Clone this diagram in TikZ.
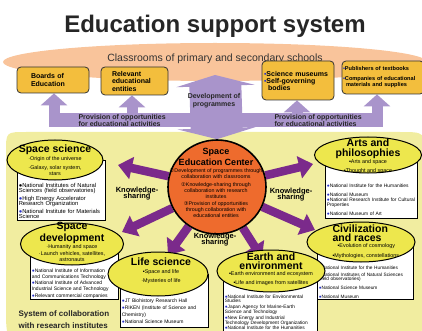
\documentclass[tikz,border=0pt]{standalone}
\usepackage{fontspec}
\setmainfont{Liberation Sans}
\newfontfamily\circnum{DejaVu Sans}
\usepackage{tikz}
\usetikzlibrary{arrows.meta,shapes,shadows}
\pgfdeclarelayer{background}
\pgfdeclarelayer{arrows}
\pgfsetlayers{background,arrows,main}

\definecolor{peach}{HTML}{F9C49B}
\definecolor{boxorange}{HTML}{F3BE3D}
\definecolor{lavender}{HTML}{A994CB}
\definecolor{paleyellow}{HTML}{F1EDA0}
\definecolor{topicyellow}{HTML}{EDE74D}
\definecolor{centerorange}{HTML}{EE6B2D}
\definecolor{arrowviolet}{HTML}{7B2A8B}
\definecolor{dotblue}{HTML}{2B35C8}

\newcommand{\fsz}[2]{\fontsize{#1}{#2}\selectfont}
\newcommand{\bul}{{\color{dotblue}●}}
\newcommand{\sqb}{{\color{dotblue}▪}}
\newcommand{\ttl}[1]{{\fontsize{10.5}{8.5}\bfseries\selectfont #1}}
\newcommand{\cnum}[1]{{\circnum #1}}

\tikzstyle{fat arrow} = [draw=arrowviolet, line width=8.5pt, -{Triangle[width=22pt,length=14pt]}]
\tikzstyle{provision} = [draw=lavender, line width=11pt, -{Triangle[width=26pt,length=12pt]}]

\begin{document}
\begin{tikzpicture}[x=1pt,y=-1pt,
  org box/.style={draw=black!80, fill=boxorange, rounded corners=4pt, line width=0.8pt,
    align=left, inner xsep=1pt, font=\fsz{7}{8}\bfseries},
  topic/.style={ellipse, draw, fill=topicyellow, line width=1pt, inner sep=0pt},
  topic text/.style={align=center, font=\fsz{5.4}{5.6}},
  info box/.style={draw, fill=white, anchor=north west, align=left, inner xsep=1.5pt,
    inner ysep=1.5pt, line width=0.6pt,
    drop shadow={shadow xshift=0.7pt, shadow yshift=-0.7pt, fill=black!80, opacity=1}},
  share/.style={align=center, font=\fsz{7.5}{6.5}\bfseries}]

  \useasboundingbox (0,0) rectangle (422,331);

  \begin{pgfonlayer}{background}
    \fill[paleyellow] (6,152) .. controls (6,132) .. (26,132) -- (400,132)
      .. controls (425,132) .. (425,157) -- (425,285) .. controls (425,345) .. (365,345)
      -- (45,345) .. controls (6,345) .. (6,306) -- cycle;
    \node[ellipse, fill=peach, minimum width=424pt, minimum height=38pt] (classrooms) at (215,62) {};
  \end{pgfonlayer}

  \node[anchor=base, font=\fsz{24}{28}\bfseries, text=black!85] (title) at (215,33) {Education support system};
  \node[font=\fsz{10.5}{12}, text=black!80] (classtext) at (215,59) {Classrooms of primary and secondary schools};

  % organisations above
  \node[org box, minimum width=72pt, minimum height=26pt, text width=44pt, font=\fsz{7}{8.5}\bfseries] (boards) at (53,80) {Boards of\\Education};
  \node[org box, minimum width=67pt, minimum height=28pt, text width=45pt, font=\fsz{7}{7.5}\bfseries] (relevant) at (134.5,81) {Relevant\\educational\\entities};
  \node[org box, minimum width=72pt, minimum height=39pt, text width=68pt, font=\fsz{7}{7}\bfseries] (museums) at (298,80.5) {\sqb Science museums\\\sqb Self-governing\\\hspace*{4pt}bodies};
  \node[org box, minimum width=82pt, minimum height=33pt, text width=80pt, font=\fsz{5.6}{6.5}\bfseries] (publishers) at (383,77.5) {\sqb Publishers of textbooks\\[3pt]\sqb Companies of educational\\\hspace*{3pt}materials and supplies};

  \node[align=center, font=\fsz{7}{8}\bfseries, text=black!85] (devtext) at (214,101) {Development of\\programmes};
  \node[align=left, anchor=west, font=\fsz{7}{7.5}\bfseries, text=black!85] (provL) at (75,120.5) {Provision of opportunities\\for educational activities};
  \node[align=left, anchor=west, font=\fsz{7}{7.5}\bfseries, text=black!85] (provR) at (271,120.5) {Provision of opportunities\\for educational activities};

  % centre
  \node[ellipse, draw, line width=1.6pt, fill=centerorange, minimum width=98pt, minimum height=94pt, inner sep=0pt] (sec) at (217,187) {};
  \node[align=center, font=\fsz{5.3}{6}] (sectext) at (216,183) {{\fsz{9}{9}\bfseries Space}\\[2pt]
    {\fsz{9}{9}\bfseries Education Center}\\[1pt]
    \cnum{①}Development of programmes through\\collaboration with classrooms\\[1.5pt]
    \cnum{②}Knowledge-sharing through\\collaboration with research\\institutes\\[1.5pt]
    \cnum{③}Provision of opportunities\\through collaboration with\\educational entities};

  % research institutes
  \node[info box, text width=85pt, font=\fsz{5.8}{5.7}] (ssbox) at (17,160) {\rule{0pt}{25.2pt}●National Institutes of Natural\\Sciences (field observatories)\\[1.6pt]\bul High Energy Accelerator\\Research Organization\\[1.6pt]\bul National Institute for Materials\\Science};
  \node[info box, text width=89pt, font=\fsz{4.9}{5}] (artsbox) at (325,155) {\rule{0pt}{30.2pt}\bul National Institute for the Humanities\\[4pt]\bul National Museum\\\bul National Research Institute for Cultural\\Properties\\[4pt]\bul National Museum of Art\rule[-2pt]{0pt}{2pt}};
  \node[info box, text width=85pt, font=\fsz{5}{6}] (sdbox) at (30,244) {\rule{0pt}{26.2pt}\bul National Institute of Information\\and Communications Technology\\\bul National Institute of Advanced\\Industrial Science and Technology\\[1pt]\bul Relevant commercial companies};
  \node[info box, text width=85pt, font=\fsz{5}{7}] (lifebox) at (120,274) {\rule{0pt}{26.2pt}\bul JT Biohistory Research Hall\\\bul RIKEN (Institute of Science and\\Chemistry)\\\bul National Science Museum\rule[-3pt]{0pt}{3pt}};
  \node[info box, text width=91pt, font=\fsz{4.8}{4.9}] (earthbox) at (223,271) {\rule{0pt}{25.2pt}\bul National Institute for Environmental\\Studies\\[1.1pt]\bul Japan Agency for Marine-Earth\\Science and Technology\\[1.1pt]\bul New Energy and Industrial\\Technology Development Organization\\\bul National Institute for the Humanities\rule[-6pt]{0pt}{6pt}};
  \node[info box, text width=93pt, font=\fsz{4.75}{4.5}] (civbox) at (317,242) {\rule{0pt}{25.2pt}\bul National Institute for the Humanities\\[2.5pt]\bul National Institutes of Natural Sciences\\(field observatories)\\[4pt]\bul National Science Museum\\[4.5pt]\bul National Museum};

  \node[topic, minimum width=96pt, minimum height=40pt] (spacesci) at (55,160) {};
  \node[topic, minimum width=107pt, minimum height=36pt] (arts) at (368,155) {};
  \node[topic, minimum width=103pt, minimum height=42pt] (spacedev) at (72,244) {};
  \node[topic, minimum width=100pt, minimum height=44pt] (life) at (158,274) {};
  \node[topic, minimum width=108pt, minimum height=42pt] (earth) at (271,271) {};
  \node[topic, minimum width=108pt, minimum height=40pt] (civ) at (361,242) {};

  \node[topic text] (spacescitext) at (spacesci) {\ttl{Space science}\\[1pt]·Origin of the universe\\[3.4pt]·Galaxy, solar system,\\stars};
  \node[topic text] (artstext) at (368,156) {\ttl{Arts and}\\[1pt]\ttl{philosophies}\\[0.5pt]▪Arts and space\\[3pt]▪Thought and space};
  \node[topic text] (spacedevtext) at (72,242) {\ttl{Space}\\[0.5pt]\ttl{development}\\[0pt]·Humanity and space\\[2pt]·Launch vehicles, satellites,\\astronauts};
  \node[topic text] (lifetext) at (161,271) {\ttl{Life science}\\[2pt]▪Space and life\\[4pt]·Mysteries of life};
  \node[topic text] (earthtext) at (271,269) {\ttl{Earth and}\\[1pt]\ttl{environment}\\[0pt]▪Earth environment and ecosystem\\[3.5pt]▪Life and images from satellites};
  \node[topic text, align=left, anchor=west] (civtext) at (329,241.5) {\ttl{Civilization}\\[1pt]\ttl{and races}\\[0pt]\hspace*{5pt}▪Evolution of cosmology\\[4.5pt]▪Mythologies, constellations};

  \node[share] (share1) at (137,194) {Knowledge-\\[-2pt]sharing};
  \node[share] (share2) at (291,195) {Knowledge-\\[-2pt]sharing};
  \node[share] (share3) at (215,240) {Knowledge-\\[-2pt]sharing};

  \node[align=left, anchor=west, font=\fsz{8}{12.5}\bfseries, text=black!85] (collab) at (15,319.5) {System of collaboration\\with research institutes};

  % connectors
  \coordinate (bandL) at (55.5,120);
  \coordinate (bandR) at (375.5,120);
  \coordinate (prov1) at (54,120);
  \coordinate (prov2) at (132,120);
  \coordinate (prov3) at (297,120);
  \coordinate (prov4) at (377,120);
  \coordinate (progtop) at (215,75);
  \coordinate (toSS) at (118,165);
  \coordinate (toArts) at (313,164);
  \coordinate (toSD) at (122,232);
  \coordinate (toCiv) at (315,230);
  \coordinate (toLife) at (168,255);
  \coordinate (toEarth) at (262,258);

  \begin{pgfonlayer}{arrows}
    \draw[lavender, line width=14pt, line cap=rect] (bandL) -- (bandR);
    \draw[provision] (prov1) -- (prov1 |- boards.south);
    \draw[provision] (prov2) -- (prov2 |- relevant.south);
    \draw[provision] (prov3) -- (prov3 |- museums.south);
    \draw[provision] (prov4) -- (prov4 |- publishers.south);
    \draw[lavender, line width=52pt, {Triangle[width=78pt,length=11pt]}-{Triangle[width=78pt,length=11pt]}] (sec.north) -- (progtop);

    \draw[fat arrow] (sec) -- (toSS);
    \draw[fat arrow] (sec) -- (toArts);
    \draw[fat arrow] (sec) -- (toSD);
    \draw[fat arrow] (sec) -- (toCiv);
    \draw[fat arrow] (sec) -- (toLife);
    \draw[fat arrow] (sec) -- (toEarth);
  \end{pgfonlayer}

\end{tikzpicture}
\end{document}
